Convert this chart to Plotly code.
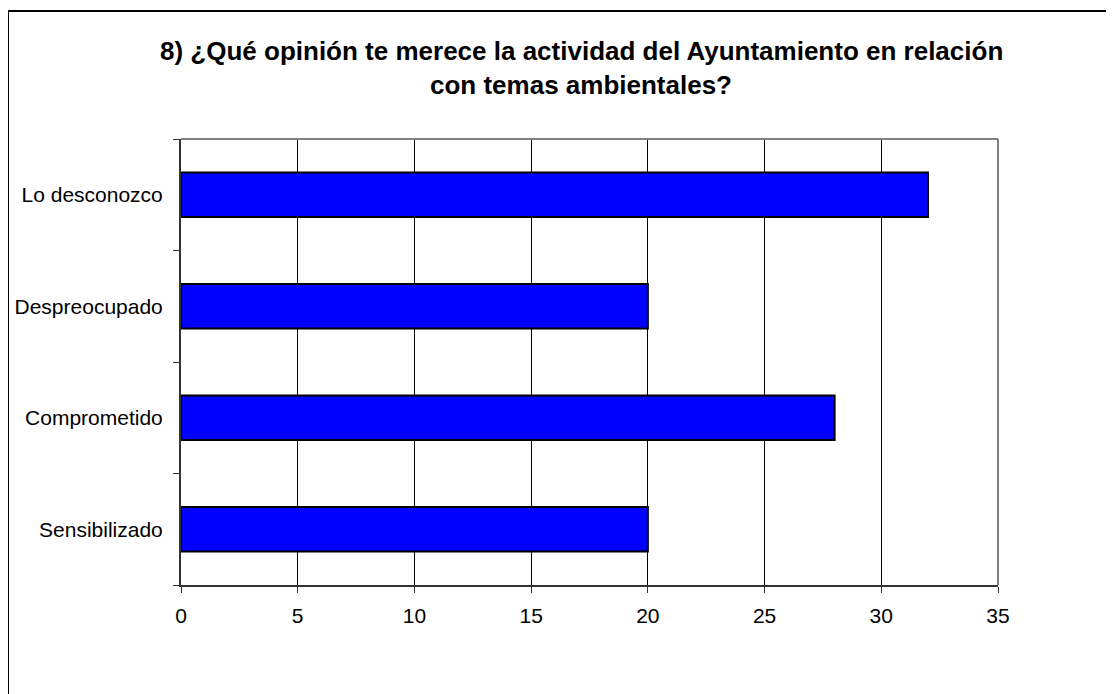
import plotly.graph_objects as go

categories = ["Sensibilizado", "Comprometido", "Despreocupado", "Lo desconozco"]
values = [20, 28, 20, 32]
x_ticks = [0, 5, 10, 15, 20, 25, 30, 35]
title_line1 = "8) ¿Qué opinión te merece la actividad del Ayuntamiento en relación"
title_line2 = "con temas ambientales?"

# the page body has an 8px margin, so lay the figure out in page pixels minus 8
OFF = 8
W, H = 1114 - OFF, 694 - OFF
L, R, T, B = 181 - OFF, 998 - OFF, 139 - OFF, 585 - OFF


def px_x(p):
    return (p - OFF - L) / (R - L)


def px_y(p):
    return (B - (p - OFF)) / (B - T)


fig = go.Figure()
fig.add_trace(go.Bar(
    x=values, y=categories, orientation="h",
    marker=dict(color="#0000FF", line=dict(color="#000000", width=2)),
    width=0.4,
))

font_family = "Liberation Sans, Arial, sans-serif"

fig.update_layout(
    width=W, height=H,
    margin=dict(l=L, r=W - R, t=T, b=H - B, autoexpand=False),
    paper_bgcolor="white", plot_bgcolor="white",
    showlegend=False,
    font=dict(family=font_family, size=21, color="black"),
    xaxis=dict(
        range=[0, 35], tickvals=x_ticks, ticks="outside", ticklen=6,
        tickcolor="#333333", showgrid=True, gridcolor="black", gridwidth=1,
        showline=True, linecolor="#333333", linewidth=2, zeroline=False,
        tickfont=dict(size=21, color="black"), ticklabelstandoff=5,
    ),
    yaxis=dict(
        type="category", categoryorder="array", categoryarray=categories,
        ticks="outside", ticklen=6, tickson="boundaries", tickcolor="#333333",
        showgrid=False, showline=True, linecolor="#333333", linewidth=2,
        tickfont=dict(size=21, color="black"), ticklabelstandoff=12,
        range=[-0.5, 3.5],
    ),
    bargap=0.6,
)

# gray top and right plot borders
fig.add_shape(type="line", xref="paper", yref="paper", x0=0, x1=1, y0=1, y1=1,
              line=dict(color="#808080", width=2))
fig.add_shape(type="line", xref="paper", yref="paper", x0=1, x1=1, y0=0, y1=1,
              line=dict(color="#808080", width=2))
# outer chart border (left and top edges visible)
fig.add_shape(type="line", xref="paper", yref="paper",
              x0=px_x(8), x1=px_x(8), y0=px_y(10), y1=px_y(720),
              line=dict(color="black", width=2))
fig.add_shape(type="line", xref="paper", yref="paper",
              x0=px_x(8), x1=px_x(1130), y0=px_y(11), y1=px_y(11),
              line=dict(color="black", width=2))

fig.add_annotation(text="<b>" + title_line1 + "</b>", xref="paper", yref="paper",
                   x=px_x(581), y=px_y(51), xanchor="center", yanchor="middle",
                   showarrow=False, font=dict(size=26, family=font_family, color="black"))
fig.add_annotation(text="<b>" + title_line2 + "</b>", xref="paper", yref="paper",
                   x=px_x(581), y=px_y(85), xanchor="center", yanchor="middle",
                   showarrow=False, font=dict(size=26, family=font_family, color="black"))

fig.write_html("out.html")
